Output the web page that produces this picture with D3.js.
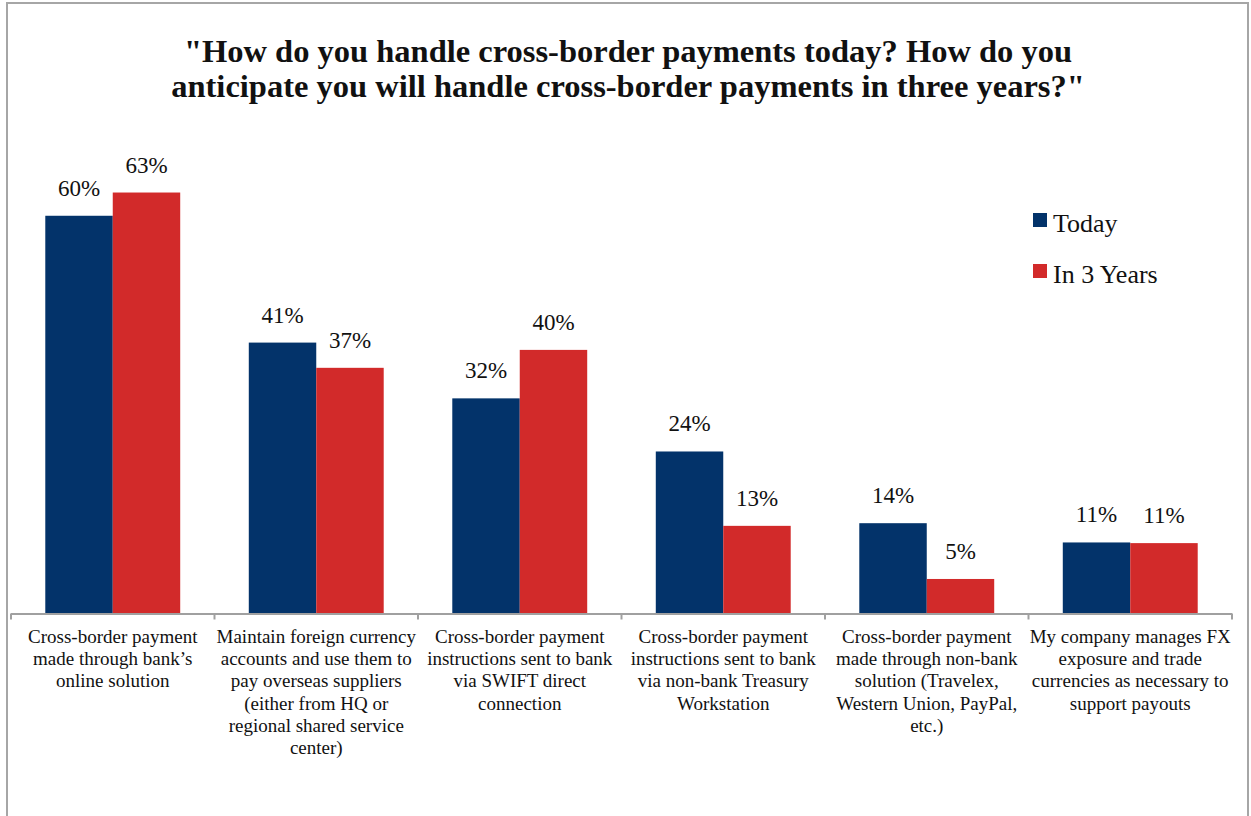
<!DOCTYPE html>
<html>
<head>
<meta charset="utf-8">
<script src="https://cdn.jsdelivr.net/npm/d3@7"></script>
<style>
  html, body { margin: 0; padding: 0; background: #fff; }
  svg { display: block; }
  text { font-family: "Liberation Serif", "DejaVu Serif", serif; fill: #111; }
</style>
</head>
<body>
<svg id="chart" width="1251" height="816"></svg>
<script>
// ---- data ----
const titleLines = [
  "\"How do you handle cross-border payments today? How do you",
  "anticipate you will handle cross-border payments in three years?\""
];
const categories = ["c1", "c2", "c3", "c4", "c5", "c6"];
const categoryLabels = [
  ["Cross-border payment", "made through bank\u2019s", "online solution"],
  ["Maintain foreign currency", "accounts and use them to", "pay overseas suppliers", "(either from HQ or", "regional shared service", "center)"],
  ["Cross-border payment", "instructions sent to bank", "via SWIFT direct", "connection"],
  ["Cross-border payment", "instructions sent to bank", "via non-bank Treasury", "Workstation"],
  ["Cross-border payment", "made through non-bank", "solution (Travelex,", "Western Union, PayPal,", "etc.)"],
  ["My company manages FX", "exposure and trade", "currencies as necessary to", "support payouts"]
];
const seriesNames = ["Today", "In 3 Years"];
const todayValues = [59.9, 40.8, 32.4, 24.4, 13.6, 10.7];
const in3YearsValues = [63.4, 37.0, 39.7, 13.2, 5.2, 10.6];
const seriesColors = ["#03336a", "#d22a2a"];

// ---- layout ----
const svg = d3.select("#chart");
const W = 1251, H = 816;
const plotLeft = 11, plotRight = 1232, baseY = 613.5, topY = 148.7;

// frame
svg.append("path")
  .attr("d", `M7,${H + 5} L7,3 L1248,3 L1248,${H + 5}`)
  .attr("fill", "none").attr("stroke", "#a6a6a6").attr("stroke-width", 2);

// title
svg.append("g").selectAll("text").data(titleLines).join("text")
  .attr("x", 628).attr("y", (d, i) => 62 + i * 35)
  .attr("text-anchor", "middle")
  .style("font-size", "32.5px").style("font-weight", "bold")
  .text(d => d);

// scales
const xOuter = d3.scaleBand().domain(categories).range([plotLeft, plotRight]);
const x = d3.scaleBand().domain(categories).range([plotLeft, plotRight])
  .paddingInner(0.337).paddingOuter(0.1685);
const xs = d3.scaleBand().domain(seriesNames).range([0, x.bandwidth()]);
const y = d3.scaleLinear().domain([0, 70]).range([baseY, topY]);

const rows = categories.map((c, i) => ({
  cat: c,
  vals: [
    { s: seriesNames[0], v: todayValues[i] },
    { s: seriesNames[1], v: in3YearsValues[i] }
  ]
}));
const color = d3.scaleOrdinal().domain(seriesNames).range(seriesColors);

const groups = svg.append("g").selectAll("g").data(rows).join("g")
  .attr("transform", d => `translate(${x(d.cat)},0)`);

groups.selectAll("rect").data(d => d.vals).join("rect")
  .attr("x", d => xs(d.s))
  .attr("width", xs.bandwidth())
  .attr("y", d => y(d.v))
  .attr("height", d => baseY - y(d.v))
  .attr("fill", d => color(d.s));

groups.selectAll("text.val").data(d => d.vals).join("text")
  .attr("class", "val")
  .attr("x", d => xs(d.s) + xs.bandwidth() / 2)
  .attr("y", d => y(d.v) - 20)
  .attr("text-anchor", "middle")
  .style("font-size", "23px")
  .text(d => Math.round(d.v) + "%");

// axis
const axisG = svg.append("g");
axisG.append("line")
  .attr("x1", plotLeft).attr("x2", plotRight)
  .attr("y1", baseY + 0.5).attr("y2", baseY + 0.5)
  .attr("stroke", "#a0a0a0").attr("stroke-width", 2);
const tickXs = categories.map(c => xOuter(c)).concat([xOuter.range()[1]]);
axisG.selectAll("line.tick").data(tickXs).join("line")
  .attr("class", "tick")
  .attr("x1", d => d).attr("x2", d => d)
  .attr("y1", baseY).attr("y2", baseY + 6)
  .attr("stroke", "#a0a0a0").attr("stroke-width", 2);

// category labels
const labG = svg.append("g").selectAll("text").data(categories).join("text")
  .attr("text-anchor", "middle")
  .style("font-size", "19px");
labG.each(function(c, i) {
  const t = d3.select(this);
  const cx = xOuter(c) + xOuter.bandwidth() / 2;
  categoryLabels[i].forEach((line, j) => {
    t.append("tspan").attr("x", cx).attr("y", 643 + j * 22.2).text(line);
  });
});

// legend
const leg = svg.append("g").selectAll("g").data(seriesNames).join("g")
  .attr("transform", (d, i) => `translate(1033,${213 + i * 51})`);
leg.append("rect").attr("width", 14).attr("height", 14).attr("fill", d => color(d));
leg.append("text").attr("x", 20).attr("y", 19)
  .style("font-size", "26px").text(d => d);
</script>
</body>
</html>
